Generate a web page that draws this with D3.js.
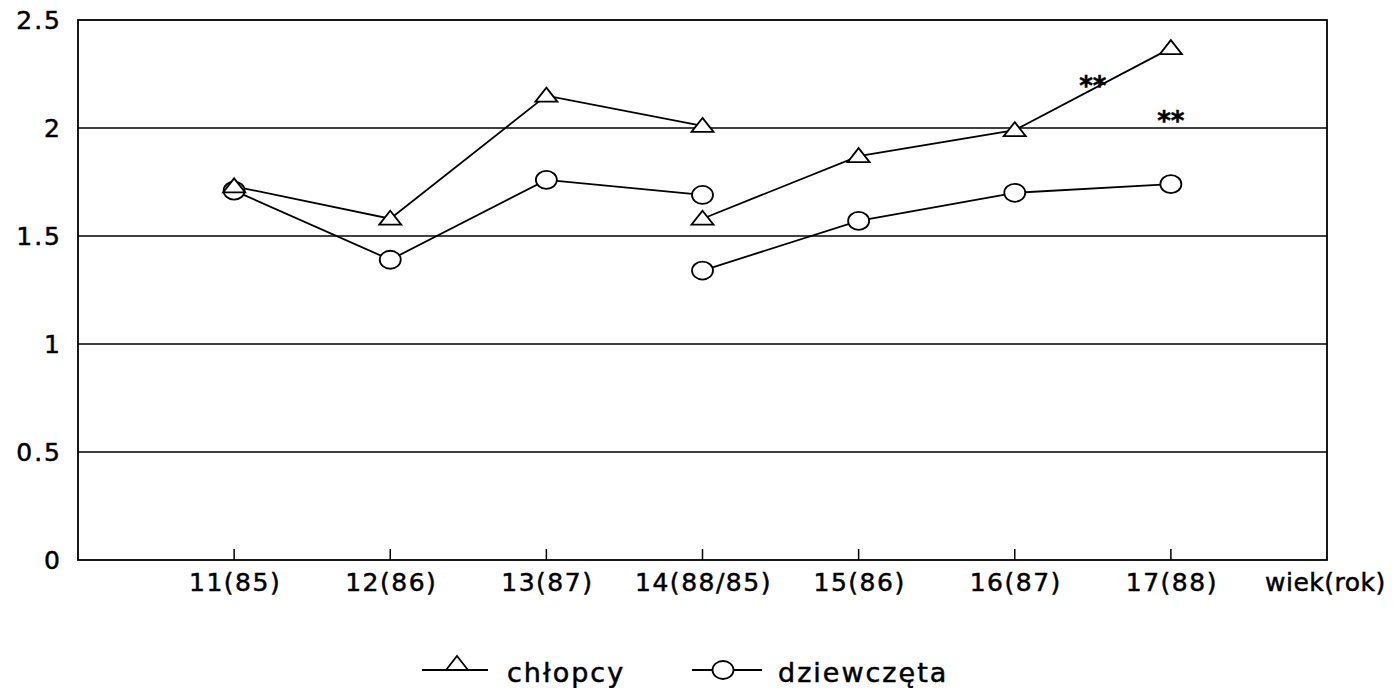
<!DOCTYPE html>
<html lang="pl">
<head>
<meta charset="UTF-8">
<title>wiek(rok)</title>
<style>
  body { margin: 0; background: #fff; }
  svg text { font-family: "DejaVu Sans", sans-serif; fill: #000; stroke: #000; stroke-width: 0.5; }
</style>
</head>
<body>
<script src="https://cdn.jsdelivr.net/npm/d3@7"></script>
<script>
  // dane
  const categories = ['11(85)', '12(86)', '13(87)', '14(88/85)', '15(86)', '16(87)', '17(88)'];
  const yTicks = [0, 0.5, 1, 1.5, 2, 2.5];
  // pierwsza seria: 11-14 lat (kategorie 0..3), druga: 14-17 lat (kategorie 3..6)
  const chlopcyA = [1.73, 1.58, 2.15, 2.01];
  const chlopcyB = [1.58, 1.87, 1.99, 2.37];
  const dziewczetaA = [1.71, 1.39, 1.76, 1.69];
  const dziewczetaB = [1.34, 1.57, 1.70, 1.74];
  const stars = [{ i: 5.5, v: 2.22 }, { i: 6, v: 2.06 }]; // oznaczenia "**"

  const w = 1394, h = 688;
  const padL = 78, padR = 1327, padT = 20, padB = 560;

  const svg = d3.select('body').append('svg')
    .attr('width', w)
    .attr('height', h);

  // skala x: indeks kategorii, z pustym miejscem po obu stronach
  const xScale = d3.scaleLinear().domain([-1, categories.length]).range([padL, padR]);
  const yScale = d3.scaleLinear().domain([0, 2.5]).range([padB, padT]);

  // linie siatki
  svg.selectAll('line.grid')
    .data(yTicks.filter(d => d > 0 && d < 2.5))
    .enter().append('line')
    .attr('class', 'grid')
    .attr('x1', padL).attr('x2', padR)
    .attr('y1', d => yScale(d)).attr('y2', d => yScale(d))
    .attr('stroke', '#000').attr('stroke-width', 1.5);

  // ramka
  svg.append('rect')
    .attr('x', padL).attr('y', padT)
    .attr('width', padR - padL).attr('height', padB - padT)
    .attr('fill', 'none').attr('stroke', '#000').attr('stroke-width', 1.8);

  // oś y
  svg.selectAll('text.ylab')
    .data(yTicks)
    .enter().append('text')
    .attr('class', 'ylab')
    .attr('x', 62)
    .attr('y', d => yScale(d))
    .attr('dy', '0.36em')
    .attr('text-anchor', 'end')
    .attr('font-size', 25)
    .attr('letter-spacing', 2)
    .text(d => d);

  // oś x: znaczniki i etykiety
  svg.selectAll('line.tick')
    .data(categories)
    .enter().append('line')
    .attr('class', 'tick')
    .attr('x1', (d, i) => xScale(i)).attr('x2', (d, i) => xScale(i))
    .attr('y1', padB).attr('y2', padB - 11)
    .attr('stroke', '#000').attr('stroke-width', 1.5);

  svg.selectAll('text.xlab')
    .data(categories)
    .enter().append('text')
    .attr('class', 'xlab')
    .attr('x', (d, i) => xScale(i) + 1)
    .attr('y', 591)
    .attr('text-anchor', 'middle')
    .attr('font-size', 25)
    .attr('letter-spacing', 1.5)
    .text(d => d);

  svg.append('text')
    .attr('x', 1265).attr('y', 591)
    .attr('font-size', 25)
    .attr('letter-spacing', 0.5)
    .text('wiek(rok)');

  const line = d3.line()
    .x(d => xScale(d.i))
    .y(d => yScale(d.v));

  const toPoints = (arr, start) => arr.map((v, k) => ({ i: start + k, v: v }));

  const series = [
    { pts: toPoints(chlopcyA, 0), shape: 'tri' },
    { pts: toPoints(chlopcyB, 3), shape: 'tri' },
    { pts: toPoints(dziewczetaA, 0), shape: 'circ' },
    { pts: toPoints(dziewczetaB, 3), shape: 'circ' }
  ];

  const triPath = 'M0,-8 L11,6 L-11,6 Z';

  function drawMarker(g, shape, x, y) {
    if (shape === 'tri') {
      g.append('path')
        .attr('d', triPath)
        .attr('transform', `translate(${x},${y})`)
        .attr('fill', '#fff').attr('stroke', '#000').attr('stroke-width', 1.8);
    } else {
      g.append('ellipse')
        .attr('cx', x).attr('cy', y)
        .attr('rx', 10.5).attr('ry', 9)
        .attr('fill', '#fff').attr('stroke', '#000').attr('stroke-width', 1.8);
    }
  }

  series.forEach(s => {
    svg.append('path')
      .datum(s.pts)
      .attr('d', line)
      .attr('fill', 'none')
      .attr('stroke', '#000')
      .attr('stroke-width', 1.8);
  });
  // najpierw kółka, potem trójkąty (trójkąty widoczne na wierzchu)
  [series[2], series[3], series[0], series[1]].forEach(s => {
    const g = svg.append('g');
    s.pts.forEach(p => drawMarker(g, s.shape, xScale(p.i), yScale(p.v)));
  });

  // gwiazdki istotności
  svg.selectAll('text.star')
    .data(stars)
    .enter().append('text')
    .attr('class', 'star')
    .attr('x', d => xScale(d.i))
    .attr('y', d => yScale(d.v) + 15)
    .attr('text-anchor', 'middle')
    .attr('font-size', 26)
    .attr('font-weight', 'bold')
    .text('**');

  // legenda
  const legend = [
    { label: 'chłopcy', shape: 'tri', x1: 422, x2: 488, mx: 457, tx: 507 },
    { label: 'dziewczęta', shape: 'circ', x1: 692, x2: 762, mx: 723, tx: 778 }
  ];
  legend.forEach(l => {
    const g = svg.append('g');
    g.append('line')
      .attr('x1', l.x1).attr('x2', l.x2)
      .attr('y1', 670).attr('y2', 670)
      .attr('stroke', '#000').attr('stroke-width', 1.8);
    drawMarker(g, l.shape, l.mx, l.shape === 'tri' ? 664 : 670);
    g.append('text')
      .attr('x', l.tx).attr('y', 682)
      .attr('font-size', 27)
      .attr('letter-spacing', 2)
      .text(l.label);
  });
</script>
</body>
</html>
